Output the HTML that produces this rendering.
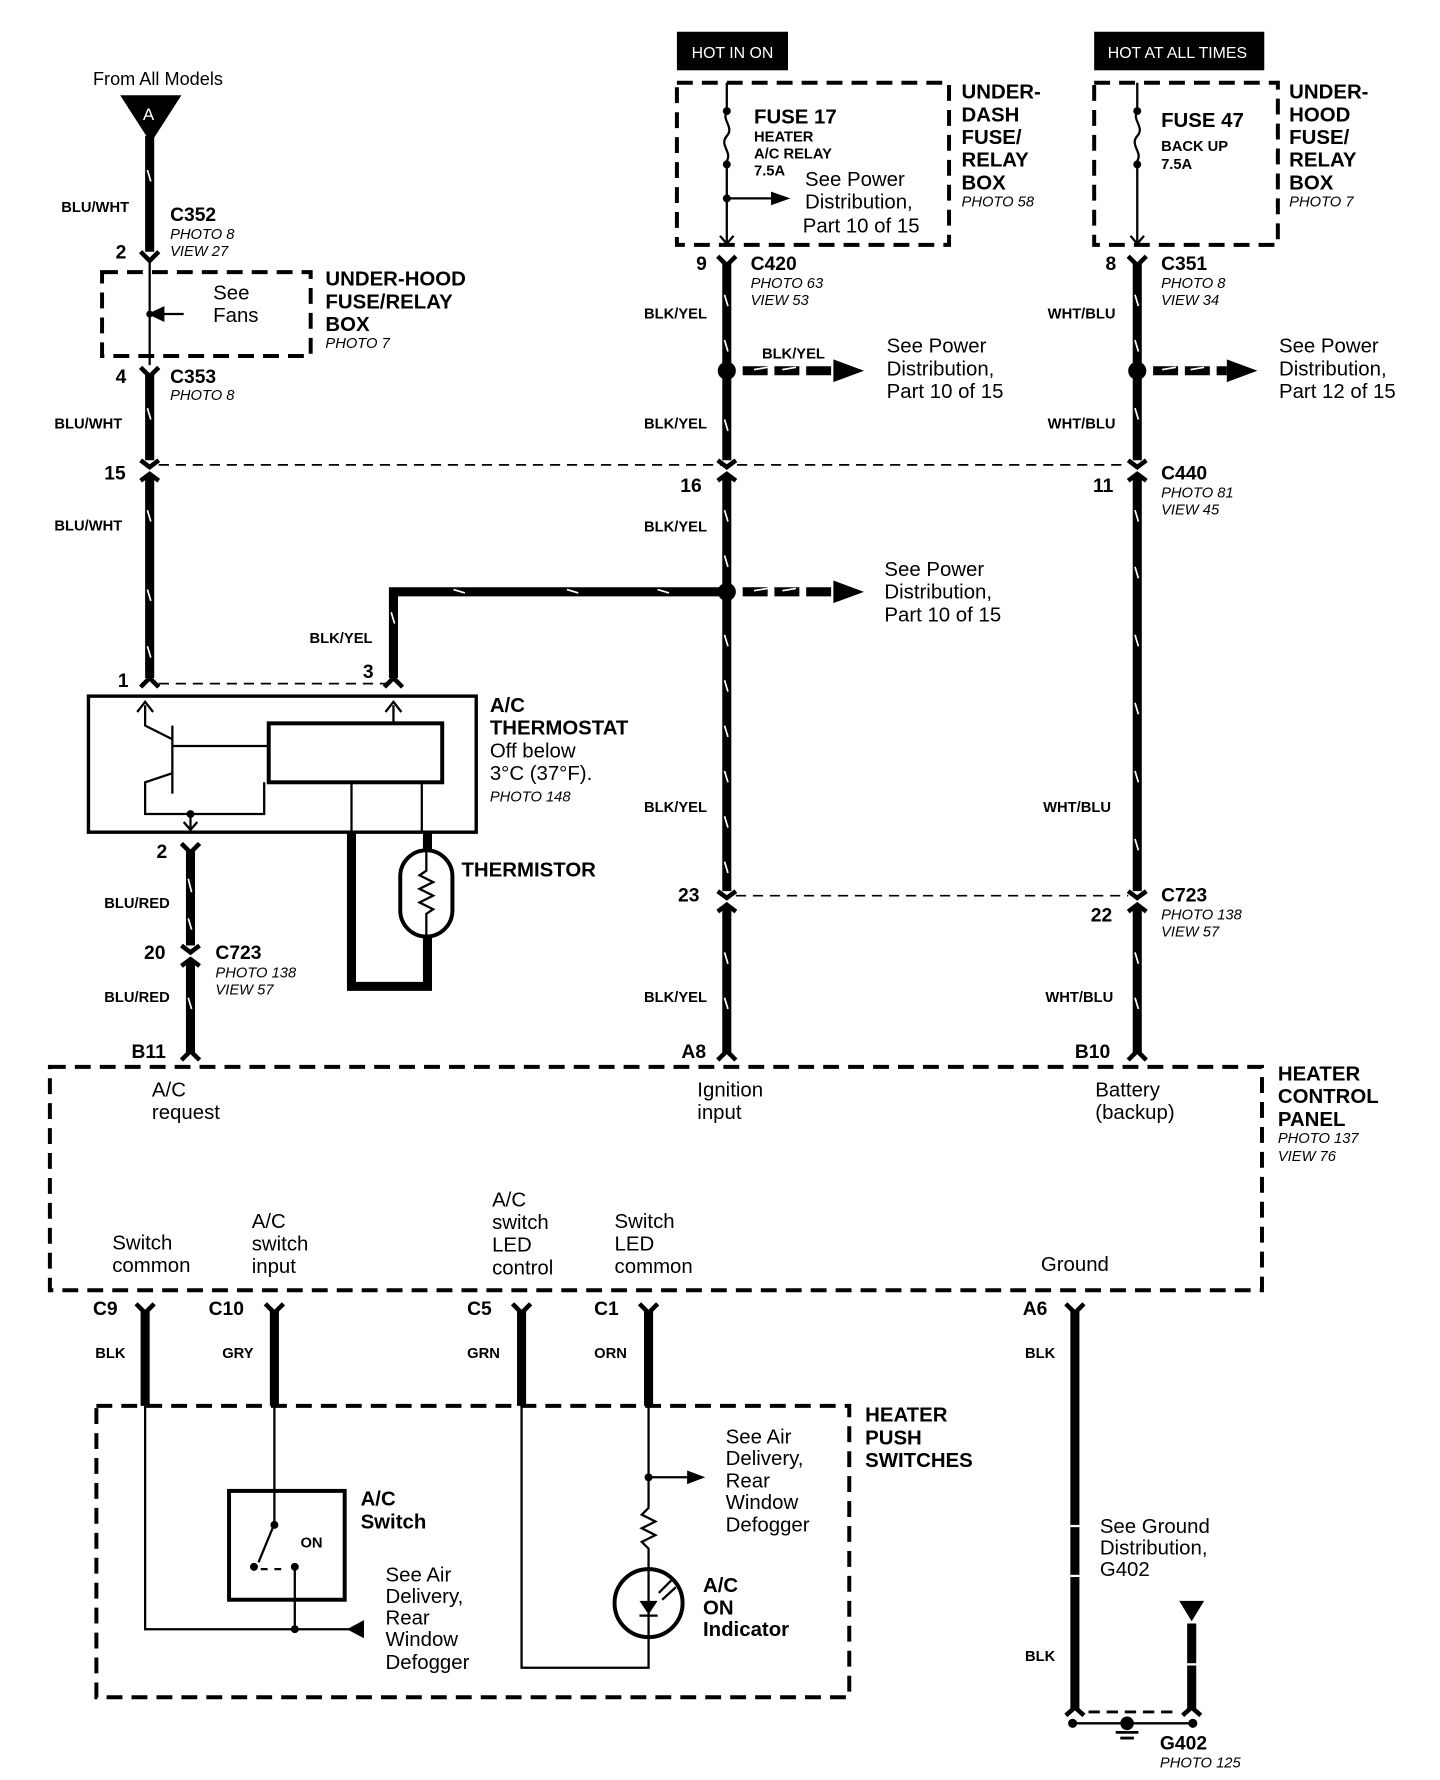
<!DOCTYPE html>
<html><head><meta charset="utf-8"><style>
html,body{margin:0;padding:0;background:#fff;}
svg{display:block;}
text{font-family:"Liberation Sans",sans-serif;fill:#000;}
.b{font-weight:bold;}
.w{font-size:13px;font-weight:bold;}
.c{font-size:17px;font-weight:bold;}
.p{font-size:13px;font-style:italic;}
.n{font-size:18px;}
.t{font-size:18px;font-weight:bold;}
.wire{stroke:#000;stroke-width:8;fill:none;}
.th{stroke:#000;stroke-width:2;fill:none;}
.dash{stroke:#000;stroke-width:3.5;fill:none;stroke-dasharray:14 8;}
.dl{stroke:#000;stroke-width:1.5;fill:none;stroke-dasharray:9 6;}
.cn{stroke:#000;stroke-width:4;fill:none;}
.tick{stroke:#fff;stroke-width:1.5;}
</style></head><body>
<svg width="1440" height="1780" viewBox="0 0 1270 1570" preserveAspectRatio="none" xmlns="http://www.w3.org/2000/svg">
<rect width="1270" height="1570" fill="#fff"/>

<!-- Left column -->
<text x="82" y="75" class="n" style="font-size:16px">From All Models</text>
<polygon points="106,84 160,84 133,126" fill="#000"/>
<text x="126" y="106" style="font-size:15px;fill:#fff">A</text>
<line x1="132" y1="120" x2="132" y2="222" class="wire"/>
<text x="54" y="187" class="w">BLU/WHT</text>
<text x="150" y="195" class="c">C352</text>
<text x="150" y="211" class="p">PHOTO 8</text>
<text x="150" y="226" class="p">VIEW 27</text>
<text x="102" y="228" class="c">2</text>
<path d="M124,222 L132,230 L140,222" class="cn"/>
<rect x="90" y="240" width="184" height="74" class="dash"/>
<line x1="132" y1="232" x2="132" y2="322" class="th"/>
<line x1="140" y1="277" x2="162" y2="277" class="th"/>
<polygon points="130,277 145,270 145,284" fill="#000"/>
<circle cx="132" cy="277" r="3"/>
<text x="188" y="264" class="n">See</text>
<text x="188" y="284" class="n">Fans</text>
<text x="287" y="252" class="t">UNDER-HOOD</text>
<text x="287" y="272" class="t">FUSE/RELAY</text>
<text x="287" y="292" class="t">BOX</text>
<text x="287" y="307" class="p">PHOTO 7</text>
<path d="M124,324 L132,332 L140,324" class="cn"/>
<text x="102" y="338" class="c">4</text>
<text x="150" y="338" class="c">C353</text>
<text x="150" y="353" class="p">PHOTO 8</text>
<line x1="132" y1="330" x2="132" y2="406" class="wire"/>
<text x="48" y="378" class="w">BLU/WHT</text>
<text x="92" y="423" class="c">15</text>
<path d="M124,406 L132,412 L140,406 M124,424 L132,418 L140,424" class="cn"/>
<line x1="132" y1="420" x2="132" y2="598" class="wire"/>
<text x="48" y="468" class="w">BLU/WHT</text>
<text x="104" y="606" class="c">1</text>
<path d="M124,606 L132,598 L140,606" class="cn"/>
<line x1="140" y1="603" x2="340" y2="603" class="dl"/>
<text x="320" y="598" class="c">3</text>
<path d="M339,606 L347,598 L355,606" class="cn"/>
<path d="M347,598 L347,522 L640,522" class="wire"/>
<text x="273" y="567" class="w">BLK/YEL</text>
<line x1="655" y1="522" x2="735" y2="522" stroke="#000" stroke-width="8" stroke-dasharray="22 6"/>
<polygon points="735,512 762,522 735,532" fill="#000"/>
<text x="780" y="508" class="n">See Power</text>
<text x="780" y="528" class="n">Distribution,</text>
<text x="780" y="548" class="n">Part 10 of 15</text>

<!-- Thermostat -->
<rect x="78" y="614" width="342" height="120" fill="none" stroke="#000" stroke-width="3"/>
<rect x="237" y="638" width="153" height="52" fill="none" stroke="#000" stroke-width="3.5"/>
<path d="M128,622 L128,640 L152,652 M152,640 L152,700 M152,658 L237,658 M152,682 L128,690 L128,718 L233,718 L233,690" class="th"/>
<path d="M347,622 L347,638" class="th"/>
<path d="M121,628 L128,619 L135,628 M340,628 L347,619 L354,628" class="th"/>
<circle cx="168" cy="718" r="3.5"/>
<path d="M168,718 L168,732 M162,725 L168,732 L174,725" class="th"/>
<path d="M310,690 L310,734 M372,690 L372,734" class="th"/>
<text x="432" y="628" class="t">A/C</text>
<text x="432" y="648" class="t">THERMOSTAT</text>
<text x="432" y="668" class="n">Off below</text>
<text x="432" y="688" class="n">3°C (37°F).</text>
<text x="432" y="707" class="p">PHOTO 148</text>
<path d="M310,734 L310,870 L377,870 L377,826 M377,750 L377,734" class="wire"/>
<rect x="353" y="750" width="46" height="76" rx="23" fill="none" stroke="#000" stroke-width="3.5"/>
<path d="M376,750 L376,768 L370,772 L382,778 L370,784 L382,790 L370,796 L382,802 L376,806 L376,826" class="th"/>
<text x="407" y="773" class="t">THERMISTOR</text>

<!-- BLU/RED wire -->
<text x="138" y="757" class="c">2</text>
<path d="M160,744 L168,752 L176,744" class="cn"/>
<line x1="168" y1="750" x2="168" y2="834" class="wire"/>
<text x="92" y="801" class="w">BLU/RED</text>
<text x="127" y="846" class="c">20</text>
<path d="M160,834 L168,840 L176,834 M160,852 L168,846 L176,852" class="cn"/>
<text x="190" y="846" class="c">C723</text>
<text x="190" y="862" class="p">PHOTO 138</text>
<text x="190" y="877" class="p">VIEW 57</text>
<line x1="168" y1="848" x2="168" y2="928" class="wire"/>
<text x="92" y="884" class="w">BLU/RED</text>
<text x="116" y="933" class="c">B11</text>
<path d="M160,935 L168,927 L176,935" class="cn"/>

<!-- Middle column -->
<rect x="597" y="28" width="98" height="34" fill="#000"/>
<text x="610" y="51" style="font-size:14px;fill:#fff">HOT IN ON</text>
<rect x="597" y="73" width="240" height="143" class="dash"/>
<path d="M641,73 L641,98 M641,98 C636,106 648,112 641,120 C634,128 646,134 641,142 L641,214" class="th"/>
<circle cx="641" cy="98" r="3.5"/><circle cx="641" cy="145" r="3.5"/><circle cx="641" cy="175" r="3.5"/>
<line x1="641" y1="175" x2="680" y2="175" class="th"/>
<polygon points="680,169 697,175 680,181" fill="#000"/>
<path d="M635,208 L641,215 L647,208" class="th"/>
<text x="665" y="109" class="t">FUSE 17</text>
<text x="665" y="125" class="w">HEATER</text>
<text x="665" y="140" class="w">A/C RELAY</text>
<text x="665" y="155" class="w">7.5A</text>
<text x="710" y="164" class="n">See Power</text>
<text x="710" y="184" class="n">Distribution,</text>
<text x="708" y="205" class="n">Part 10 of 15</text>
<text x="848" y="87" class="t">UNDER-</text>
<text x="848" y="107" class="t">DASH</text>
<text x="848" y="127" class="t">FUSE/</text>
<text x="848" y="147" class="t">RELAY</text>
<text x="848" y="167" class="t">BOX</text>
<text x="848" y="182" class="p">PHOTO 58</text>
<text x="614" y="238" class="c">9</text>
<path d="M633,226 L641,234 L649,226" class="cn"/>
<text x="662" y="238" class="c">C420</text>
<text x="662" y="254" class="p">PHOTO 63</text>
<text x="662" y="269" class="p">VIEW 53</text>
<line x1="641" y1="232" x2="641" y2="406" class="wire"/>
<text x="568" y="281" class="w">BLK/YEL</text>
<line x1="655" y1="327" x2="735" y2="327" stroke="#000" stroke-width="8" stroke-dasharray="22 6"/>
<polygon points="735,317 762,327 735,337" fill="#000"/>
<text x="672" y="316" class="w">BLK/YEL</text>
<text x="782" y="311" class="n">See Power</text>
<text x="782" y="331" class="n">Distribution,</text>
<text x="782" y="351" class="n">Part 10 of 15</text>
<text x="568" y="378" class="w">BLK/YEL</text>
<line x1="140" y1="410" x2="995" y2="410" class="dl"/>
<path d="M633,406 L641,412 L649,406 M633,424 L641,418 L649,424" class="cn"/>
<text x="600" y="434" class="c">16</text>
<line x1="641" y1="420" x2="641" y2="786" class="wire"/>
<text x="568" y="469" class="w">BLK/YEL</text>
<text x="568" y="716" class="w">BLK/YEL</text>
<line x1="649" y1="790" x2="995" y2="790" class="dl"/>
<path d="M633,786 L641,792 L649,786 M633,804 L641,798 L649,804" class="cn"/>
<text x="598" y="795" class="c">23</text>
<line x1="641" y1="800" x2="641" y2="928" class="wire"/>
<text x="568" y="884" class="w">BLK/YEL</text>
<text x="601" y="933" class="c">A8</text>
<path d="M633,935 L641,927 L649,935" class="cn"/>

<!-- Right column -->
<rect x="965" y="28" width="150" height="34" fill="#000"/>
<text x="977" y="51" style="font-size:14px;fill:#fff">HOT AT ALL TIMES</text>
<rect x="965" y="73" width="162" height="143" class="dash"/>
<path d="M1003,73 L1003,98 C998,106 1010,112 1003,120 C996,128 1008,134 1003,142 L1003,214" class="th"/>
<circle cx="1003" cy="98" r="3.5"/><circle cx="1003" cy="145" r="3.5"/>
<path d="M997,208 L1003,215 L1009,208" class="th"/>
<text x="1024" y="112" class="t">FUSE 47</text>
<text x="1024" y="133" class="w">BACK UP</text>
<text x="1024" y="149" class="w">7.5A</text>
<text x="1137" y="87" class="t">UNDER-</text>
<text x="1137" y="107" class="t">HOOD</text>
<text x="1137" y="127" class="t">FUSE/</text>
<text x="1137" y="147" class="t">RELAY</text>
<text x="1137" y="167" class="t">BOX</text>
<text x="1137" y="182" class="p">PHOTO 7</text>
<text x="975" y="238" class="c">8</text>
<path d="M995,226 L1003,234 L1011,226" class="cn"/>
<text x="1024" y="238" class="c">C351</text>
<text x="1024" y="254" class="p">PHOTO 8</text>
<text x="1024" y="269" class="p">VIEW 34</text>
<line x1="1003" y1="232" x2="1003" y2="406" class="wire"/>
<text x="924" y="281" class="w">WHT/BLU</text>
<line x1="1017" y1="327" x2="1082" y2="327" stroke="#000" stroke-width="8" stroke-dasharray="22 6"/>
<polygon points="1082,317 1109,327 1082,337" fill="#000"/>
<text x="1128" y="311" class="n">See Power</text>
<text x="1128" y="331" class="n">Distribution,</text>
<text x="1128" y="351" class="n">Part 12 of 15</text>
<text x="924" y="378" class="w">WHT/BLU</text>
<path d="M995,406 L1003,412 L1011,406 M995,424 L1003,418 L1011,424" class="cn"/>
<text x="1024" y="423" class="c">C440</text>
<text x="1024" y="439" class="p">PHOTO 81</text>
<text x="1024" y="454" class="p">VIEW 45</text>
<text x="964" y="434" class="c">11</text>
<line x1="1003" y1="420" x2="1003" y2="786" class="wire"/>
<text x="920" y="716" class="w">WHT/BLU</text>
<path d="M995,786 L1003,792 L1011,786 M995,804 L1003,798 L1011,804" class="cn"/>
<text x="1024" y="795" class="c">C723</text>
<text x="1024" y="811" class="p">PHOTO 138</text>
<text x="1024" y="826" class="p">VIEW 57</text>
<text x="962" y="813" class="c">22</text>
<line x1="1003" y1="800" x2="1003" y2="928" class="wire"/>
<text x="922" y="884" class="w">WHT/BLU</text>
<text x="948" y="933" class="c">B10</text>
<path d="M995,935 L1003,927 L1011,935" class="cn"/>

<!-- wire texture ticks -->
<g class="tick">
<path d="M130,150 l3,10 M130,360 l3,10 M130,450 l3,10 M130,520 l3,10 M130,570 l3,10 M166,775 l3,12 M166,810 l3,10 M166,880 l3,10 M639,260 l3,10 M639,300 l3,10 M639,370 l3,10 M639,450 l3,10 M639,490 l3,10 M639,560 l3,10 M639,600 l3,10 M639,640 l3,10 M639,680 l3,10 M639,720 l3,10 M639,760 l3,10 M639,840 l3,10 M639,880 l3,10 M1001,260 l3,10 M1001,300 l3,10 M1001,360 l3,10 M1001,450 l3,10 M1001,500 l3,10 M1001,560 l3,10 M1001,620 l3,10 M1001,680 l3,10 M1001,740 l3,10 M1001,840 l3,10 M1001,880 l3,10 M345,540 l3,10 M400,520 l10,3 M500,520 l10,3 M580,520 l10,3 M665,326 l12,-2 M690,326 l12,-2 M1025,326 l12,-2 M1050,326 l12,-2 M665,521 l12,-2 M690,521 l12,-2"/>
</g>
<circle cx="641" cy="327" r="8"/>
<circle cx="641" cy="522" r="8"/>
<circle cx="1003" cy="327" r="8"/>

<!-- Heater control panel -->
<rect x="44" y="941" width="1069" height="197" class="dash"/>
<text x="134" y="967" class="n">A/C</text>
<text x="134" y="987" class="n">request</text>
<text x="615" y="967" class="n">Ignition</text>
<text x="615" y="987" class="n">input</text>
<text x="966" y="967" class="n">Battery</text>
<text x="966" y="987" class="n">(backup)</text>
<text x="1127" y="953" class="t">HEATER</text>
<text x="1127" y="973" class="t">CONTROL</text>
<text x="1127" y="993" class="t">PANEL</text>
<text x="1127" y="1008" class="p">PHOTO 137</text>
<text x="1127" y="1024" class="p">VIEW 76</text>
<text x="99" y="1102" class="n">Switch</text>
<text x="99" y="1122" class="n">common</text>
<text x="222" y="1083" class="n">A/C</text>
<text x="222" y="1103" class="n">switch</text>
<text x="222" y="1123" class="n">input</text>
<text x="434" y="1064" class="n">A/C</text>
<text x="434" y="1084" class="n">switch</text>
<text x="434" y="1104" class="n">LED</text>
<text x="434" y="1124" class="n">control</text>
<text x="542" y="1083" class="n">Switch</text>
<text x="542" y="1103" class="n">LED</text>
<text x="542" y="1123" class="n">common</text>
<text x="918" y="1121" class="n">Ground</text>

<!-- Bottom wires -->
<text x="82" y="1160" class="c">C9</text>
<text x="184" y="1160" class="c">C10</text>
<text x="412" y="1160" class="c">C5</text>
<text x="524" y="1160" class="c">C1</text>
<text x="902" y="1160" class="c">A6</text>
<path d="M120,1150 L128,1158 L136,1150 M234,1150 L242,1158 L250,1150 M452,1150 L460,1158 L468,1150 M564,1150 L572,1158 L580,1150 M940,1150 L948,1158 L956,1150" class="cn"/>
<line x1="128" y1="1156" x2="128" y2="1240" class="wire"/>
<line x1="242" y1="1156" x2="242" y2="1240" class="wire"/>
<line x1="460" y1="1156" x2="460" y2="1240" class="wire"/>
<line x1="572" y1="1156" x2="572" y2="1240" class="wire"/>
<text x="84" y="1198" class="w">BLK</text>
<text x="196" y="1198" class="w">GRY</text>
<text x="412" y="1198" class="w">GRN</text>
<text x="524" y="1198" class="w">ORN</text>

<!-- Heater push switches -->
<rect x="85" y="1240" width="664" height="257" class="dash"/>
<text x="763" y="1254" class="t">HEATER</text>
<text x="763" y="1274" class="t">PUSH</text>
<text x="763" y="1294" class="t">SWITCHES</text>
<path d="M128,1240 L128,1437 L310,1437" class="th"/>
<polygon points="306,1437 321,1429 321,1445" fill="#000"/>
<circle cx="260" cy="1437" r="3.5"/>
<rect x="202" y="1315" width="102" height="96" fill="none" stroke="#000" stroke-width="3.5"/>
<path d="M242,1240 L242,1344 L228,1378 M260,1437 L260,1382" class="th"/>
<circle cx="242" cy="1345" r="3.5"/><circle cx="224" cy="1382" r="3.5"/><circle cx="260" cy="1382" r="3.5"/>
<path d="M230,1384 L236,1384 M242,1384 L248,1384" class="th"/>
<text x="265" y="1365" class="w">ON</text>
<text x="318" y="1328" class="t">A/C</text>
<text x="318" y="1348" class="t">Switch</text>
<text x="340" y="1395" class="n">See Air</text>
<text x="340" y="1414" class="n">Delivery,</text>
<text x="340" y="1433" class="n">Rear</text>
<text x="340" y="1452" class="n">Window</text>
<text x="340" y="1472" class="n">Defogger</text>
<path d="M460,1240 L460,1471 L572,1471 L572,1438 M572,1240 L572,1330 L566,1336 L578,1342 L566,1348 L578,1354 L566,1360 L572,1366 L572,1388 M572,1303 L608,1303" class="th"/>
<circle cx="572" cy="1303" r="3.5"/>
<polygon points="606,1297 622,1303 606,1309" fill="#000"/>
<circle cx="572" cy="1414" r="30" fill="none" stroke="#000" stroke-width="3.5"/>
<polygon points="564,1412 580,1412 572,1424" fill="#000"/>
<path d="M564,1425 L580,1425 M572,1388 L572,1440 M581,1405 L592,1394 M584,1411 L596,1400" class="th"/>
<text x="640" y="1273" class="n">See Air</text>
<text x="640" y="1292" class="n">Delivery,</text>
<text x="640" y="1312" class="n">Rear</text>
<text x="640" y="1331" class="n">Window</text>
<text x="640" y="1351" class="n">Defogger</text>
<text x="620" y="1404" class="t">A/C</text>
<text x="620" y="1424" class="t">ON</text>
<text x="620" y="1443" class="t">Indicator</text>

<!-- Ground -->
<line x1="948" y1="1156" x2="948" y2="1508" class="wire"/>
<line x1="944" y1="1346" x2="952" y2="1346" stroke="#fff" stroke-width="2"/>
<line x1="944" y1="1390" x2="952" y2="1390" stroke="#fff" stroke-width="2"/>
<text x="904" y="1198" class="w">BLK</text>
<text x="904" y="1465" class="w">BLK</text>
<text x="970" y="1352" class="n">See Ground</text>
<text x="970" y="1371" class="n">Distribution,</text>
<text x="970" y="1390" class="n">G402</text>
<polygon points="1040,1412 1062,1412 1051,1430" fill="#000"/>
<line x1="1051" y1="1432" x2="1051" y2="1508" class="wire"/>
<line x1="1046" y1="1468" x2="1056" y2="1468" stroke="#fff" stroke-width="2"/>
<path d="M940,1513 L948,1506 L956,1513 M1043,1513 L1051,1506 L1059,1513" class="cn"/>
<line x1="960" y1="1510" x2="1040" y2="1510" stroke="#000" stroke-width="2.5" stroke-dasharray="10 6"/>
<line x1="946" y1="1520" x2="1052" y2="1520" class="th"/>
<circle cx="946" cy="1520" r="4"/><circle cx="1052" cy="1520" r="4"/><circle cx="994" cy="1520" r="6"/>
<path d="M984,1528 L1004,1528 M988,1533 L1000,1533" stroke="#000" stroke-width="2.5"/>
<text x="1023" y="1543" class="c">G402</text>
<text x="1023" y="1559" class="p">PHOTO 125</text>
</svg>
</body></html>
